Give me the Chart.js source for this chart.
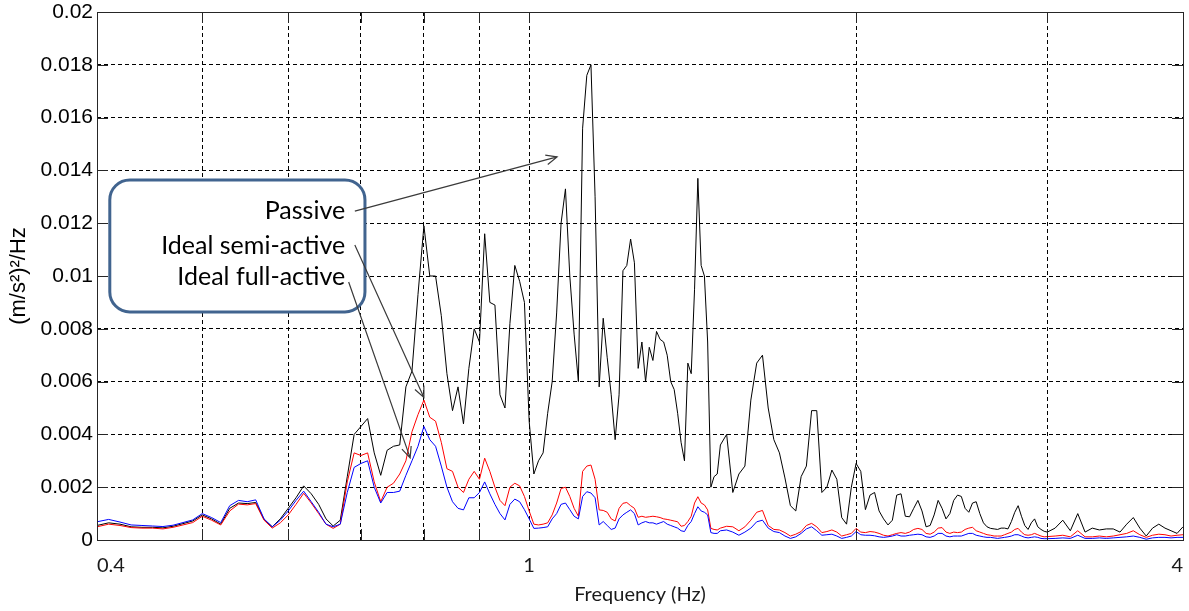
<!DOCTYPE html>
<html>
<head>
<meta charset="utf-8">
<script src="https://cdn.jsdelivr.net/npm/chart.js@4.4.1/dist/chart.umd.min.js"></script>
<style>
  html, body { margin: 0; padding: 0; background: #fff; }
  #wrap { width: 1189px; height: 611px; }
</style>
</head>
<body>
<div id="wrap"><canvas id="psd" width="1189" height="611"></canvas></div>
<script>
// ----- data (PSD values in 1e-3 (m/s^2)^2/Hz) -----
const freqHz = [
  0.40,0.41,0.42,0.43,0.44,0.45,0.46,0.47,0.48,0.49,
  0.50,0.51,0.52,0.53,0.54,0.55,0.56,0.57,0.58,0.59,
  0.60,0.61,0.62,0.63,0.64,0.65,0.66,0.67,0.68,0.69,
  0.70,0.71,0.72,0.73,0.74,0.75,0.76,0.77,0.78,0.79,
  0.80,0.81,0.82,0.83,0.84,0.85,0.86,0.87,0.88,0.89,
  0.90,0.91,0.92,0.93,0.94,0.95,0.96,0.97,0.98,0.99,
  1.00,1.01,1.02,1.03,1.04,1.05,1.06,1.07,1.08,1.09,
  1.10,1.11,1.12,1.13,1.14,1.15,1.16,1.17,1.18,1.19,
  1.20,1.21,1.22,1.23,1.24,1.25,1.26,1.27,1.28,1.29,
  1.30,1.31,1.32,1.33,1.34,1.35,1.36,1.37,1.38,1.39,
  1.40,1.41,1.42,1.43,1.44,1.45,1.46,1.47,1.48,1.49,
  1.50,1.52,1.54,1.56,1.58,1.60,1.62,1.64,1.66,1.68,
  1.70,1.72,1.74,1.76,1.78,1.80,1.82,1.84,1.86,1.88,
  1.90,1.92,1.94,1.96,1.98,2.00,2.02,2.04,2.06,2.08,
  2.10,2.12,2.14,2.16,2.18,2.20,2.22,2.24,2.26,2.28,
  2.30,2.32,2.34,2.36,2.38,2.40,2.42,2.44,2.46,2.48,
  2.50,2.52,2.54,2.56,2.58,2.60,2.62,2.64,2.66,2.68,
  2.70,2.72,2.74,2.76,2.78,2.80,2.82,2.84,2.86,2.88,
  2.90,2.92,2.94,2.96,2.98,3.00,3.05,3.10,3.15,3.20,
  3.25,3.30,3.35,3.40,3.45,3.50,3.55,3.60,3.65,3.70,
  3.75,3.80,3.85,3.90,3.95,4.00
];

const passive = [
  0.55,0.65,0.60,0.50,0.48,0.48,0.46,0.52,0.62,0.72,
  0.95,0.80,0.60,1.20,1.40,1.38,1.42,0.78,0.50,0.80,
  1.20,1.60,2.05,1.75,1.35,0.80,0.53,0.75,2.40,4.00,
  4.30,4.60,3.30,2.45,3.40,3.55,3.60,5.80,6.40,9.30,
  11.9,10.0,10.0,8.50,6.30,4.90,5.80,4.40,6.50,8.00,
  7.50,11.6,9.00,8.90,5.50,5.00,8.20,10.4,9.80,9.00,
  4.50,2.50,3.00,3.30,4.80,6.00,8.60,12.0,13.3,10.0,
  7.80,6.00,15.6,17.6,18.0,13.0,5.80,8.40,6.90,5.50,
  3.80,5.50,10.2,10.4,11.4,10.5,6.50,7.50,6.00,7.30,
  6.80,7.90,7.60,7.50,7.00,6.00,5.70,4.80,3.70,3.00,
  6.70,6.30,9.50,13.7,10.4,10.0,7.50,2.00,2.40,2.50,
  3.60,4.00,1.80,2.50,2.80,5.30,6.70,7.00,5.00,3.80,
  3.30,2.35,1.30,1.10,2.40,2.80,4.90,4.90,1.80,2.00,
  2.65,2.30,0.85,0.60,2.00,2.90,2.60,1.15,1.70,1.80,
  1.10,0.80,0.57,0.75,1.70,1.75,0.90,0.88,1.20,1.50,
  1.10,0.50,0.55,0.95,1.50,1.20,0.80,1.00,1.50,1.70,
  1.65,1.20,1.05,1.40,1.45,1.00,0.65,0.50,0.44,0.42,
  0.40,0.45,0.45,0.42,0.70,1.05,1.30,0.90,0.55,0.40,
  0.65,0.80,0.50,0.40,0.33,0.30,0.45,0.75,0.35,1.00,
  0.30,0.45,0.38,0.42,0.42,0.30,0.60,0.85,0.45,0.15,
  0.45,0.60,0.45,0.35,0.25,0.50
];

const semiActive = [
  0.50,0.60,0.55,0.47,0.45,0.45,0.42,0.48,0.57,0.66,
  0.90,0.75,0.57,1.10,1.36,1.33,1.38,0.75,0.45,0.65,
  0.95,1.35,1.77,1.40,1.00,0.60,0.44,0.60,2.20,3.30,
  3.20,3.30,2.20,1.45,2.00,2.15,2.50,3.00,4.10,4.75,
  5.30,4.65,4.50,3.70,2.70,2.60,2.00,1.80,2.30,2.60,
  2.30,3.10,2.60,2.00,1.50,1.30,2.00,2.15,2.05,1.65,
  1.10,0.60,0.57,0.60,0.65,0.95,1.40,1.95,2.00,1.65,
  1.20,0.90,2.60,2.80,2.84,2.30,1.14,1.12,1.05,0.80,
  0.72,1.20,1.39,1.42,1.30,1.20,0.86,0.90,0.86,0.88,
  0.90,0.88,0.85,0.80,0.78,0.75,0.72,0.69,0.52,0.55,
  0.70,0.90,1.40,1.64,1.40,1.33,1.14,0.44,0.40,0.38,
  0.45,0.52,0.50,0.35,0.50,0.75,1.05,1.12,0.55,0.40,
  0.38,0.28,0.15,0.22,0.32,0.55,0.63,0.50,0.28,0.32,
  0.38,0.30,0.15,0.20,0.25,0.44,0.30,0.28,0.32,0.30,
  0.25,0.18,0.15,0.20,0.25,0.28,0.25,0.30,0.40,0.44,
  0.40,0.25,0.22,0.30,0.45,0.47,0.30,0.25,0.30,0.28,
  0.30,0.40,0.45,0.48,0.35,0.30,0.25,0.20,0.18,0.15,
  0.15,0.15,0.20,0.25,0.30,0.40,0.44,0.30,0.20,0.18,
  0.20,0.25,0.20,0.15,0.12,0.13,0.15,0.18,0.12,0.35,
  0.12,0.12,0.15,0.12,0.15,0.20,0.25,0.35,0.20,0.10,
  0.18,0.22,0.20,0.15,0.18,0.20
];

const fullActive = [
  0.69,0.78,0.68,0.57,0.55,0.53,0.51,0.56,0.66,0.76,
  1.00,0.85,0.66,1.30,1.50,1.45,1.52,0.80,0.50,0.75,
  1.10,1.50,1.85,1.45,1.05,0.60,0.50,0.60,1.80,2.75,
  2.90,3.00,2.00,1.40,1.80,1.80,1.85,2.45,3.00,3.55,
  4.30,3.80,3.55,2.80,2.00,1.45,1.20,1.14,1.60,1.60,
  1.80,2.20,1.75,1.35,1.00,0.76,1.35,1.55,1.45,1.15,
  0.80,0.44,0.45,0.47,0.50,0.80,1.00,1.35,1.40,1.15,
  0.90,0.80,1.65,1.83,1.78,1.60,0.57,0.70,0.55,0.40,
  0.45,0.80,0.95,1.05,1.14,1.00,0.57,0.65,0.70,0.65,
  0.65,0.60,0.65,0.70,0.60,0.55,0.50,0.45,0.35,0.32,
  0.55,0.70,1.00,1.26,1.10,1.05,0.95,0.28,0.25,0.25,
  0.35,0.38,0.30,0.18,0.30,0.45,0.69,0.75,0.45,0.32,
  0.28,0.15,0.06,0.12,0.25,0.42,0.50,0.35,0.18,0.20,
  0.22,0.15,0.06,0.10,0.15,0.32,0.20,0.18,0.18,0.16,
  0.12,0.10,0.12,0.15,0.20,0.15,0.15,0.18,0.20,0.22,
  0.20,0.12,0.10,0.15,0.25,0.25,0.15,0.12,0.15,0.15,
  0.15,0.20,0.25,0.25,0.18,0.15,0.12,0.10,0.10,0.08,
  0.06,0.08,0.10,0.12,0.15,0.20,0.20,0.15,0.10,0.08,
  0.10,0.12,0.10,0.06,0.05,0.05,0.06,0.08,0.06,0.18,
  0.06,0.06,0.08,0.06,0.08,0.10,0.12,0.15,0.10,0.03,
  0.08,0.10,0.10,0.08,0.10,0.10
];

const xGridTicks = [0.4, 0.5, 0.6, 0.7, 0.8, 0.9, 1, 2, 3, 4];
const xLabelTicks = [0.4, 1, 4];
const yTicks = [0, 0.002, 0.004, 0.006, 0.008, 0.01, 0.012, 0.014, 0.016, 0.018, 0.02];

// callout: labels, where the text ends, where arrows start and point (data coords)
const calloutLabels = ["Passive", "Ideal semi-active", "Ideal full-active"];
const calloutTextY = [0.01245, 0.01115, 0.00998];
const calloutTextX = 0.677;
const calloutBoxX = [0.411, 0.706];
const calloutBoxY = [0.01364, 0.00864];
const arrowFrom = [[0.691, 0.01246], [0.691, 0.01117], [0.682, 0.00977]];
const arrowTo = [[1.061, 0.01451], [0.800, 0.00540], [0.777, 0.00311]];

const UNIT = 1e-3;
function toPoints(vals){ return freqHz.map((f, i) => ({ x: f, y: vals[i] * UNIT })); }

// ----- frame, inward ticks and callout -----
const TICK_LEN = 11;
function arrow(ctx, x1, y1, x2, y2){
  const ang = Math.atan2(y2 - y1, x2 - x1), h = 12, spread = 0.42;
  ctx.beginPath();
  ctx.moveTo(x1, y1); ctx.lineTo(x2, y2);
  ctx.moveTo(x2 - h * Math.cos(ang - spread), y2 - h * Math.sin(ang - spread));
  ctx.lineTo(x2, y2);
  ctx.lineTo(x2 - h * Math.cos(ang + spread), y2 - h * Math.sin(ang + spread));
  ctx.stroke();
}

const framePlugin = {
  id: "frame",
  afterDraw(chart){
    const { ctx, chartArea: a, scales: { x, y } } = chart;
    ctx.save();
    ctx.setLineDash([]);
    ctx.strokeStyle = "#262626";
    ctx.lineWidth = 1;
    ctx.beginPath();
    xGridTicks.forEach(v => {
      const px = Math.round(x.getPixelForValue(v)) + 0.5;
      ctx.moveTo(px, a.bottom); ctx.lineTo(px, a.bottom - TICK_LEN);
      ctx.moveTo(px, a.top); ctx.lineTo(px, a.top + TICK_LEN);
    });
    yTicks.forEach(v => {
      const py = Math.round(y.getPixelForValue(v)) + 0.5;
      ctx.moveTo(a.left, py); ctx.lineTo(a.left + TICK_LEN, py);
      ctx.moveTo(a.right, py); ctx.lineTo(a.right - TICK_LEN, py);
    });
    ctx.stroke();
    ctx.strokeRect(Math.round(a.left) + 0.5, Math.round(a.top) + 0.5,
                   Math.round(a.right - a.left), Math.round(a.bottom - a.top));

    // callout box
    const bx1 = x.getPixelForValue(calloutBoxX[0]), bx2 = x.getPixelForValue(calloutBoxX[1]);
    const by1 = y.getPixelForValue(calloutBoxY[0]), by2 = y.getPixelForValue(calloutBoxY[1]);
    ctx.beginPath();
    ctx.roundRect(bx1, by1, bx2 - bx1, by2 - by1, 20);
    ctx.fillStyle = "#fff";
    ctx.fill();
    ctx.lineWidth = 3;
    ctx.strokeStyle = "#41648f";
    ctx.stroke();

    ctx.fillStyle = "#000";
    ctx.font = "25px Lato";
    ctx.textAlign = "right";
    ctx.textBaseline = "middle";
    const tx = x.getPixelForValue(calloutTextX);
    calloutLabels.forEach((t, i) => ctx.fillText(t, tx, y.getPixelForValue(calloutTextY[i])));

    ctx.strokeStyle = "#3a3a3a";
    ctx.lineWidth = 1.2;
    arrowFrom.forEach((p, i) => {
      arrow(ctx, x.getPixelForValue(p[0]), y.getPixelForValue(p[1]),
            x.getPixelForValue(arrowTo[i][0]), y.getPixelForValue(arrowTo[i][1]));
    });
    ctx.restore();
  }
};

new Chart(document.getElementById("psd"), {
  type: "line",
  data: {
    datasets: [
      { label: "Ideal full-active", data: toPoints(fullActive), borderColor: "#0000ff" },
      { label: "Ideal semi-active", data: toPoints(semiActive), borderColor: "#ff0000" },
      { label: "Passive", data: toPoints(passive), borderColor: "#000000" }
    ]
  },
  options: {
    responsive: false,
    animation: false,
    layout: { padding: { left: 0, top: 12, right: 6, bottom: 0 } },
    elements: { point: { radius: 0 }, line: { borderWidth: 1, tension: 0 } },
    plugins: { legend: { display: false }, tooltip: { enabled: false } },
    scales: {
      x: {
        type: "logarithmic",
        min: 0.4, max: 4,
        afterBuildTicks: s => { s.ticks = xGridTicks.map(v => ({ value: v })); },
        afterFit: s => { s.height = 71; s.paddingLeft = 0; s.paddingRight = 0; },
        grid: { color: "#000", lineWidth: 1, drawTicks: false },
        border: { display: false, dash: [4, 3] },
        ticks: {
          autoSkip: false, maxRotation: 0, align: "inner", padding: 14,
          color: "#1a1a1a", font: { family: "Lato", size: 20 },
          callback: v => xLabelTicks.includes(v) ? String(v) : ""
        },
        title: {
          display: true, text: "Frequency (Hz)", color: "#1a1a1a",
          font: { family: "Lato", size: 20 }, padding: { top: 0, bottom: 4 }
        }
      },
      y: {
        min: 0, max: 0.02,
        afterBuildTicks: s => { s.ticks = yTicks.map(v => ({ value: v })); },
        afterFit: s => { s.width = 97; s.paddingTop = 0; s.paddingBottom = 0; },
        grid: { color: "#000", lineWidth: 1, drawTicks: false },
        border: { display: false, dash: [4, 3] },
        ticks: {
          padding: 4, color: "#000",
          font: { family: "Liberation Sans", size: 21 },
          callback: v => String(v)
        },
        title: {
          display: true, text: "(m/s²)²/Hz", color: "#000",
          font: { family: "Liberation Sans", size: 22 }, padding: { top: 6, bottom: 0 }
        }
      }
    }
  },
  plugins: [framePlugin]
});
</script>
</body>
</html>
